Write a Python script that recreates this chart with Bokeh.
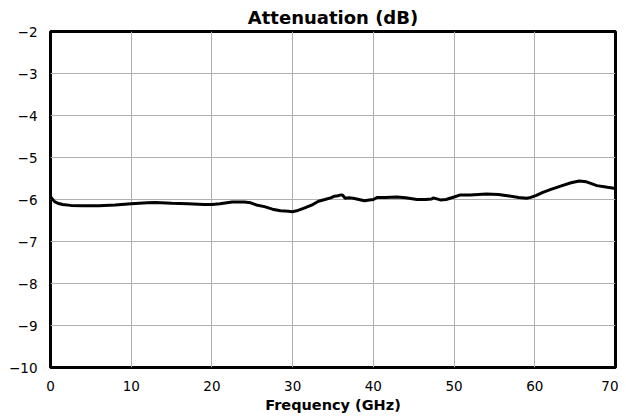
from bokeh.plotting import figure
from bokeh.models import FixedTicker, Range1d
from bokeh.embed import file_html
from bokeh.resources import INLINE

freq = [0, 0.2, 0.5, 0.9, 1.5, 2.5, 4, 6, 8, 10, 12, 13, 15, 17, 19, 20, 21, 22.5, 24, 24.8,
        25.5, 26.5, 27.5, 28.5, 29.5, 30, 30.5, 31.5, 32.5, 33.2, 34, 34.7, 35.2, 35.6, 36.0,
        36.2, 36.5, 37.0, 37.5, 38.2, 38.9, 39.5, 40.0, 40.5, 41.5, 42.9, 44, 45.4, 46.5, 47.2,
        47.4, 48.3, 49, 50, 50.8, 52, 54, 55.5, 56.6, 58, 59, 59.5, 60.2, 61, 62, 63.2, 64.5,
        65.5, 66.4, 67.7, 69, 70]
atten = [-5.93, -5.98, -6.05, -6.09, -6.12, -6.14, -6.15, -6.15, -6.13, -6.1, -6.08, -6.07,
         -6.09, -6.1, -6.12, -6.12, -6.1, -6.06, -6.06, -6.08, -6.13, -6.17, -6.23, -6.27,
         -6.28, -6.29, -6.27, -6.2, -6.12, -6.04, -6.0, -5.96, -5.92, -5.91, -5.89, -5.9,
         -5.97, -5.96, -5.97, -6.0, -6.03, -6.01, -6.0, -5.95, -5.95, -5.94, -5.96, -6.0,
         -6.0, -5.99, -5.96, -6.01, -6.0, -5.94, -5.89, -5.89, -5.87, -5.88, -5.91, -5.95,
         -5.97, -5.95, -5.9, -5.83, -5.76, -5.68, -5.6, -5.56, -5.58, -5.67, -5.71, -5.74]

x_ticks = [0, 10, 20, 30, 40, 50, 60, 70]
y_ticks = [-10, -9, -8, -7, -6, -5, -4, -3, -2]

FONT = "DejaVu Sans"

p = figure(frame_width=565, frame_height=336, output_backend="svg", toolbar_location=None,
           x_range=Range1d(0, 70), y_range=Range1d(-10, -2),
           title="Attenuation (dB)")
p.min_border_left = 50
p.min_border_right = 3
p.min_border_top = 31
p.min_border_bottom = 44

p.title.align = "center"
p.title.text_font = FONT
p.title.text_font_size = "18px"
p.title.text_font_style = "bold"
p.title.text_color = "black"
p.title.standoff = 7

p.outline_line_color = "black"
p.outline_line_width = 3
p.outline_line_alpha = 1.0

p.xaxis.ticker = FixedTicker(ticks=x_ticks)
p.yaxis.ticker = FixedTicker(ticks=y_ticks)
p.yaxis.major_label_overrides = {t: ("\u2212" + str(-t)) if t < 0 else str(t) for t in y_ticks}

for ax in (p.xaxis[0], p.yaxis[0]):
    ax.axis_line_color = None
    ax.major_tick_line_color = None
    ax.minor_tick_line_color = None
    ax.major_tick_out = 0
    ax.major_tick_in = 0
    ax.minor_tick_out = 0
    ax.minor_tick_in = 0
    ax.major_label_text_font = FONT
    ax.major_label_text_font_size = "13.5px"
    ax.major_label_text_color = "black"

p.xaxis.major_label_standoff = 13
p.yaxis.major_label_standoff = 13

p.xaxis.axis_label = "Frequency (GHz)"
p.xaxis.axis_label_text_font = FONT
p.xaxis.axis_label_text_font_size = "14.5px"
p.xaxis.axis_label_text_font_style = "bold"
p.xaxis.axis_label_text_color = "black"
p.xaxis.axis_label_standoff = 3

p.xgrid.ticker = FixedTicker(ticks=x_ticks)
p.ygrid.ticker = FixedTicker(ticks=y_ticks)
p.grid.grid_line_color = "#b0b0b0"
p.grid.grid_line_width = 1
p.grid.grid_line_alpha = 1.0

p.line(freq, atten, line_color="black", line_width=3)

open("out.html", "w").write(file_html(p, INLINE))
